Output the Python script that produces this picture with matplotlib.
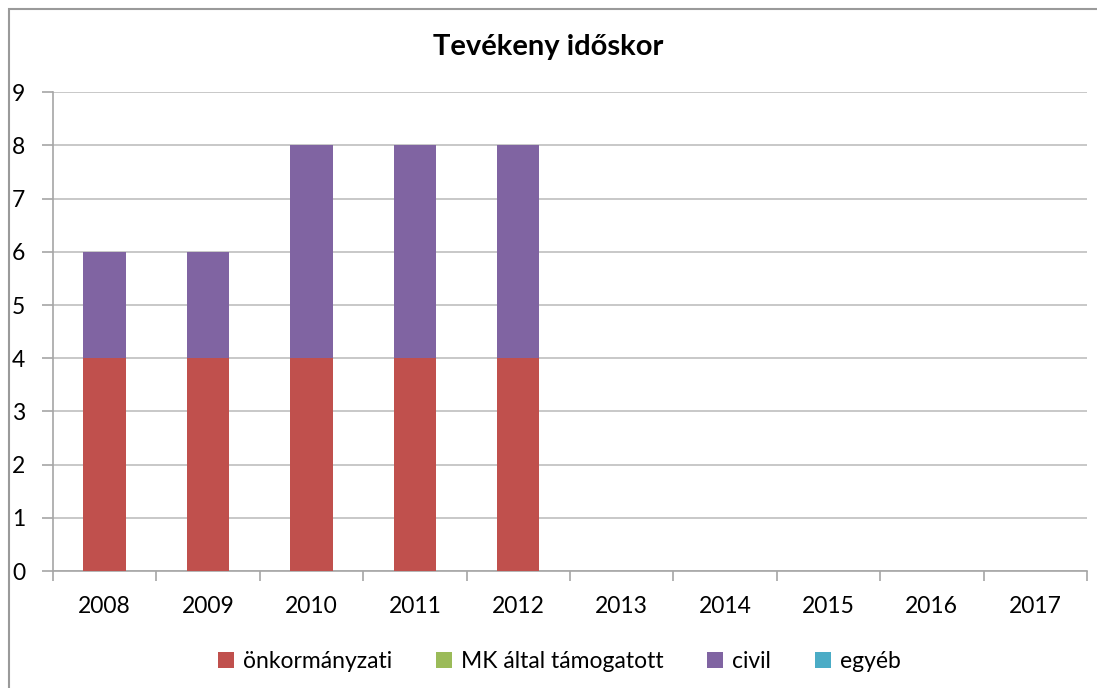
import numpy as np
import matplotlib.pyplot as plt
from matplotlib.patches import Rectangle

# =============================
# DATA
# =============================
years = ["2008", "2009", "2010", "2011", "2012", "2013", "2014", "2015", "2016", "2017"]
onkormanyzati = [4, 4, 4, 4, 4, 0, 0, 0, 0, 0]
mk_altal = [0, 0, 0, 0, 0, 0, 0, 0, 0, 0]
civil = [2, 2, 4, 4, 4, 0, 0, 0, 0, 0]
egyeb = [0, 0, 0, 0, 0, 0, 0, 0, 0, 0]

series = [
    ("önkormányzati", onkormanyzati, "#C0504D"),
    ("MK által támogatott", mk_altal, "#9BBB59"),
    ("civil", civil, "#8064A2"),
    ("egyéb", egyeb, "#4BACC6"),
]

plt.rcParams['font.family'] = ['Lato', 'DejaVu Sans']

# =============================
# PLOT
# =============================
fig = plt.figure(figsize=(10.97, 6.88), dpi=100)
ax = fig.add_axes([0.0483, 0.170, 0.9425, 0.696])

x = np.arange(len(years))
bottom = np.zeros(len(years))
handles = []
for name, vals, color in series:
    h = ax.bar(x, vals, width=0.41, bottom=bottom, color=color, label=name, zorder=3)
    handles.append(h)
    bottom += np.array(vals)

ax.set_xlim(-0.5, len(years) - 0.5)
ax.set_ylim(0, 9)
ax.set_yticks(range(0, 10))
ax.yaxis.grid(True, color="#BFBFBF", linewidth=1.2, zorder=0)

# x ticks at category boundaries, labels centred
ax.set_xticks(np.arange(-0.5, len(years), 1.0))
ax.set_xticklabels([])
ax.set_xticks(x, minor=True)
ax.set_xticklabels(years, minor=True)
ax.tick_params(axis="x", which="major", length=7, color="#A6A6A6", width=1.2)
ax.tick_params(axis="x", which="minor", length=0, pad=18, labelsize=16.5)
ax.tick_params(axis="y", length=8, color="#A6A6A6", width=1.2, pad=12, labelsize=16.5)

for side in ["top", "right"]:
    ax.spines[side].set_visible(False)
for side in ["left", "bottom"]:
    ax.spines[side].set_color("#A6A6A6")
    ax.spines[side].set_linewidth(1.2)

fig.text(0.5, 0.932, "Tevékeny időskor", ha="center", va="center",
         fontsize=21, fontweight="bold")

fig.legend(handles=handles, loc="center", bbox_to_anchor=(0.51, 0.038),
           ncol=4, frameon=False, fontsize=16.5, handlelength=0.7,
           handleheight=0.7, handletextpad=0.4, columnspacing=1.9)

# outer chart border (top and left visible)
fig.patches.append(Rectangle((9 / 1097, -0.1), 1.2, 1.1 - 9 / 688,
                             transform=fig.transFigure, fill=False,
                             edgecolor="#9A9A9A", linewidth=1.5))

plt.savefig("out.png", dpi=100)
